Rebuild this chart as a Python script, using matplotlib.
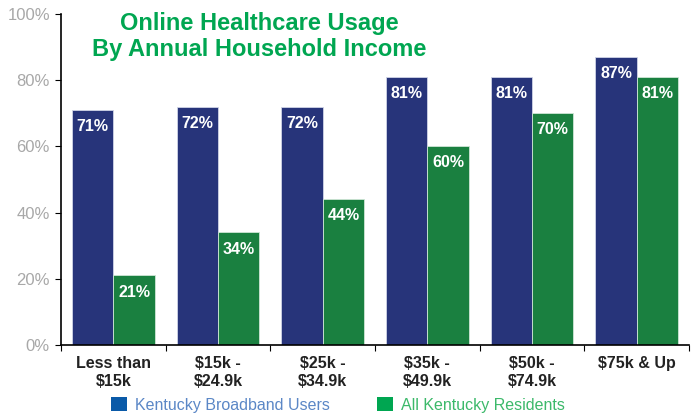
import matplotlib.pyplot as plt
from matplotlib.patches import Patch
import numpy as np

plt.rcParams['font.family'] = ['Liberation Sans', 'DejaVu Sans']

categories = ["Less than\n$15k", "$15k -\n$24.9k", "$25k -\n$34.9k", "$35k -\n$49.9k", "$50k -\n$74.9k", "$75k & Up"]
broadband = [71, 72, 72, 81, 81, 87]
residents = [21, 34, 44, 60, 70, 81]
series_names = ["Kentucky Broadband Users", "All Kentucky Residents"]

blue = "#27347a"
green = "#1a8040"

fig = plt.figure(figsize=(6.96, 4.17), dpi=100)
ax = fig.add_axes([61/696, 1-345/417, 628/696, 331/417])

x = np.arange(len(categories))
w = 0.395
b1 = ax.bar(x - w/2, broadband, w, color=blue, edgecolor="#d0d4e6", linewidth=0.6)
b2 = ax.bar(x + w/2, residents, w, color=green, edgecolor="#cfe6d6", linewidth=0.6)

for bars, vals in ((b1, broadband), (b2, residents)):
    for r, v in zip(bars, vals):
        ax.text(r.get_x() + r.get_width()/2, v - 5, f"{v}%", ha="center", va="center",
                color="white", fontsize=11.5, fontweight="bold")

ax.set_xlim(-0.5, len(categories) - 0.5)
ax.set_ylim(0, 100)
ax.set_yticks(range(0, 101, 20))
ax.set_yticklabels([f"{v}%" for v in range(0, 101, 20)], color="#a8a8a8", fontsize=12)
ax.set_xticks(np.arange(len(categories) + 1) - 0.5)
ax.set_xticklabels([])
ax.set_xticks(x, minor=True)
ax.set_xticklabels(categories, minor=True, fontsize=11.5, fontweight="bold", color="#222222")
ax.tick_params(axis="x", which="minor", length=0, pad=8)
ax.tick_params(axis="x", which="major", length=4, color="black")
ax.tick_params(axis="y", length=4, color="black", pad=4)
for s in ("top", "right"):
    ax.spines[s].set_visible(False)
ax.spines["left"].set_linewidth(1.2)
ax.spines["bottom"].set_linewidth(1.2)

ax.text(0.315, 1.005, "Online Healthcare Usage\nBy Annual Household Income", transform=ax.transAxes,
        ha="center", va="top", color="#00a651", fontsize=17, fontweight="bold", linespacing=1.12)

handles = [Patch(facecolor="#0a5aa8"), Patch(facecolor="#00a651")]
leg = fig.legend(handles, series_names, loc="center", bbox_to_anchor=(338/696, 1-405/417), ncol=2,
                 frameon=False, fontsize=11.5, handlelength=1.0, handleheight=1.0,
                 handletextpad=0.5, columnspacing=3.0)
for t, c in zip(leg.get_texts(), ["#5b87c6", "#3cb96a"]):
    t.set_color(c)

fig.savefig("out.png", dpi=100)
